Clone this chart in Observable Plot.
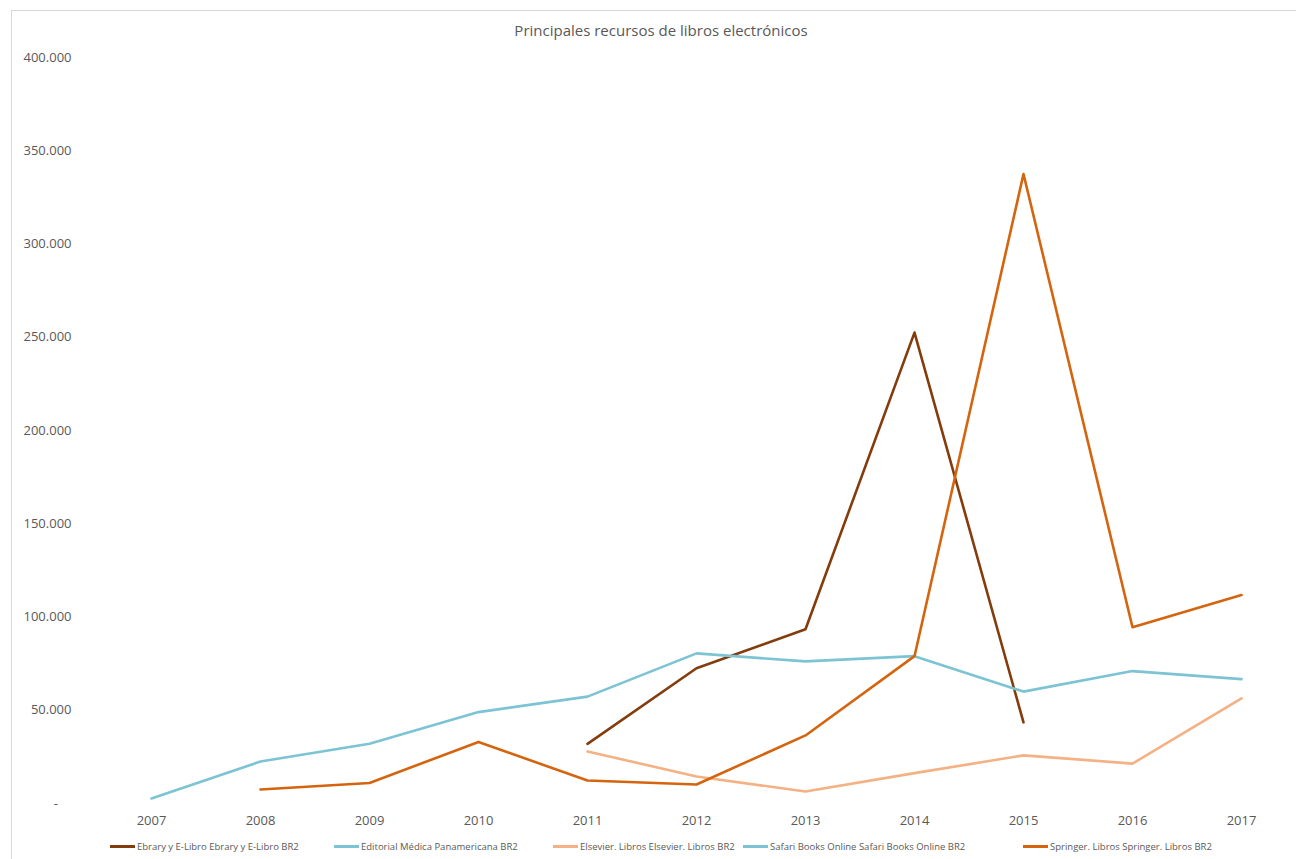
<!DOCTYPE html>
<html>
<head>
<meta charset="utf-8">
<script src="https://cdn.jsdelivr.net/npm/d3@7"></script>
<script src="https://cdn.jsdelivr.net/npm/@observablehq/plot@0.6"></script>
<style>
  html, body { margin: 0; padding: 0; background: #fff; }
  body { width: 1296px; height: 859px; position: relative; overflow: hidden; font-family: "Open Sans", sans-serif; }
  #frame { position: absolute; left: 11px; top: 10px; width: 1300px; height: 860px; border-left: 1px solid #d9d9d9; border-top: 1px solid #d9d9d9; box-sizing: border-box; }
  #title { position: absolute; top: 20px; left: 0; width: 1322px; text-align: center; font-size: 15px; color: #595959; }
  #chart { position: absolute; left: 0; top: 0; }
  #legend { position: absolute; top: 840px; left: 0; width: 1296px; height: 16px; font-size: 9.5px; color: #595959; }
  .item { position: absolute; display: flex; align-items: center; white-space: nowrap; }
  .sw { width: 25px; height: 3px; margin-right: 2px; }
</style>
</head>
<body>
<div id="frame"></div>
<div id="title">Principales recursos de libros electrónicos</div>
<div id="chart"></div>
<div id="legend"></div>
<script>
const years = [2007, 2008, 2009, 2010, 2011, 2012, 2013, 2014, 2015, 2016, 2017];
const seriesNames = [
  "Ebrary y E-Libro Ebrary y E-Libro BR2",
  "Editorial Médica Panamericana BR2",
  "Elsevier. Libros Elsevier. Libros BR2",
  "Safari Books Online Safari Books Online BR2",
  "Springer. Libros Springer. Libros BR2"
];
const seriesColors = ["#843c0c", "#7cc3d3", "#f4b183", "#7cc3d3", "#d5640f"];
// values per year (null = no data)
const ebrary    = [null, null, null, null, 32000, 72500, 93400, 252500, 43500, null, null];
const editorial = [null, null, null, null, null, null, null, null, null, null, null];
const elsevier  = [null, null, null, null, 27900, 14500, 6400, 16300, 25800, 21400, 56400];
const safari    = [2700, 22500, 32000, 49000, 57300, 80500, 76200, 79000, 60000, 71000, 66700];
const springer  = [null, 7500, 11000, 33000, 12300, 10200, 36500, 79000, 337500, 94500, 111800];
const yTicks = [0, 50000, 100000, 150000, 200000, 250000, 300000, 350000, 400000];

const seriesValues = [ebrary, editorial, elsevier, safari, springer];
const rows = [];
seriesNames.forEach((name, i) => {
  seriesValues[i].forEach((v, j) => {
    if (v != null) rows.push({series: name, year: String(years[j]), value: v});
  });
});

const fmt = d => d === 0 ? "-\u00a0\u00a0\u00a0\u00a0" : d3.format(",")(d).replace(/,/g, ".");

const plot = Plot.plot({
  width: 1296,
  height: 836,
  marginTop: 57,
  marginBottom: 33,
  marginLeft: 94,
  marginRight: 0,
  style: {fontFamily: "Open Sans, sans-serif", fontSize: "13px", color: "#595959", background: "transparent", overflow: "visible"},
  x: {type: "point", domain: years.map(String), padding: 0.5, range: [94.5, 1297.5], label: null},
  y: {domain: [0, 400000], label: null},
  color: {domain: seriesNames, range: seriesColors},
  marks: [
    Plot.ruleY(yTicks, {x1: 94, x2: 1296, stroke: "#d9d9d9", strokeWidth: 1}),
    Plot.axisY({ticks: yTicks, tickFormat: fmt, tickSize: 0, tickPadding: 23, label: null, fontSize: 13, fill: "#595959"}),
    Plot.axisX({tickSize: 0, tickPadding: 12, label: null, fontSize: 13, fill: "#595959"}),
    Plot.lineY(rows, {x: "year", y: "value", z: "series", stroke: "series", strokeWidth: 2.6, strokeLinejoin: "round", curve: "linear"})
  ]
});
document.getElementById("chart").appendChild(plot);

const legendX = [110, 334, 553, 743, 1023];
const legend = document.getElementById("legend");
seriesNames.forEach((name, i) => {
  const it = document.createElement("div");
  it.className = "item";
  it.style.left = legendX[i] + "px";
  const sw = document.createElement("span");
  sw.className = "sw";
  sw.style.background = seriesColors[i];
  const tx = document.createElement("span");
  tx.textContent = name;
  it.appendChild(sw);
  it.appendChild(tx);
  legend.appendChild(it);
});
</script>
</body>
</html>
